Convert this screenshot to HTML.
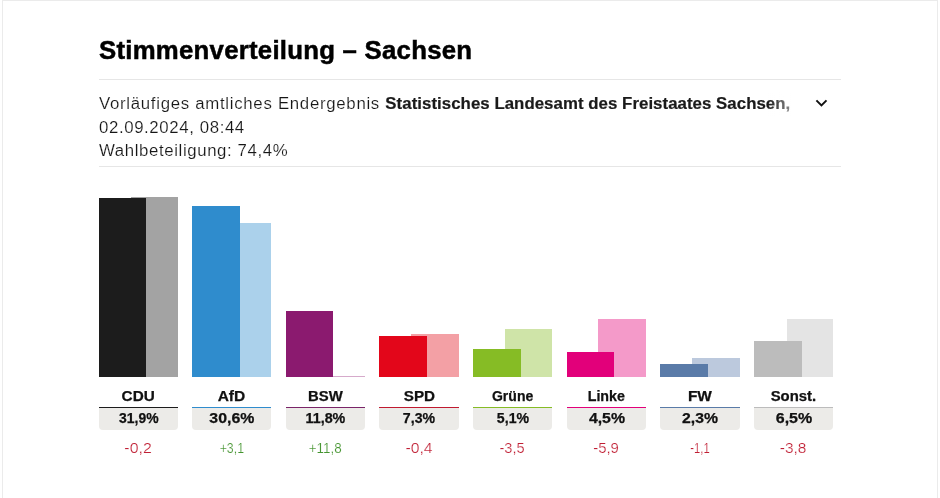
<!DOCTYPE html>
<html lang="de">
<head>
<meta charset="utf-8">
<title>Stimmenverteilung – Sachsen</title>
<style>
*{box-sizing:border-box;margin:0;padding:0}
html,body{width:940px;height:498px;background:#fff;overflow:hidden}
body{font-family:"Liberation Sans",sans-serif;color:#1a1a1a;position:relative}
.frame{position:absolute;left:2px;top:0;width:936px;height:520px;border:1px solid #ebebeb;border-bottom:none}
h2{position:absolute;left:98.8px;top:34px;font-size:25px;line-height:32px;font-weight:700;color:#000;white-space:nowrap;letter-spacing:.25px;transform:scaleX(1.03);transform-origin:0 0;-webkit-text-stroke:.5px #000}
.hr{position:absolute;left:99px;width:742px;height:1px;background:#e6e6e6}
.meta{position:absolute;left:99px;top:91.8px;width:659px;font-size:16px;line-height:23.4px;color:#161616;-webkit-text-stroke:.16px #fff;letter-spacing:.58px;transform:scaleX(1.05);transform-origin:0 0}
.meta .l1{white-space:nowrap;overflow:hidden;position:relative;line-height:24px}
.meta .l1 b{font-weight:700;color:#1a1a1a;letter-spacing:.05px;-webkit-text-stroke:.2px #1a1a1a}
.meta .l1:after{content:"";position:absolute;right:0;top:0;width:22px;height:24px;background:linear-gradient(to right,rgba(255,255,255,0),rgba(255,255,255,.5))}
.chev{position:absolute;left:814px;top:96px;width:16px;height:16px}
.col{position:absolute;top:197px;height:270px}
.bar{position:absolute}
.bar.now{z-index:2}
.bar.prev{z-index:1}
.lbl,.pct,.dif{position:absolute;left:0;width:100%;text-align:center;font-size:14px;white-space:nowrap}
.lbl span,.pct span,.dif span{display:inline-block}
.lbl{top:189px;line-height:20px;font-weight:700;color:#111;-webkit-text-stroke:.25px #111}
.line{position:absolute;top:210px;left:0;width:100%;height:1px}
.pct{top:211px;height:22px;background:#ecebe8;border-radius:0 0 4px 4px;line-height:21px;font-weight:700;color:#111;-webkit-text-stroke:.25px #111}
.dif{top:241px;line-height:20px;-webkit-text-stroke:.2px #fff}
.neg{color:#c01f34}.pos{color:#44942f}
</style>
</head>
<body>
<div class="frame"></div>
<h2>Stimmenverteilung – Sachsen</h2>
<div class="hr" style="top:79px"></div>
<div class="meta">
<div class="l1"><span style="letter-spacing:.67px">Vorläufiges amtliches Endergebnis </span><b>Statistisches Landesamt des Freistaates Sachsen,</b></div>
<div>02.09.2024, 08:44</div>
<div>Wahlbeteiligung: 74,4%</div>
</div>
<svg class="chev" viewBox="0 0 16 16"><path d="M2.4 4.4 L7.45 9.4 L12.5 4.4" fill="none" stroke="#111" stroke-width="2"/></svg>
<div class="hr" style="top:166px"></div>
<div class="col" style="left:99px;width:79px"><div class="bar prev" style="left:32px;width:47px;top:0px;height:180px;background:#a3a3a3"></div><div class="bar now" style="left:0;width:47px;top:1px;height:179px;background:#1c1c1c"></div><div class="lbl"><span style="transform:scaleX(1.093)">CDU</span></div><div class="line" style="background:#1c1c1c"></div><div class="pct"><span style="transform:scaleX(0.995)">31,9%</span></div><div class="dif neg"><span style="transform:scaleX(1.135)">-0,2</span></div></div>
<div class="col" style="left:192px;width:79px"><div class="bar prev" style="left:32px;width:47px;top:26px;height:154px;background:#abd1eb"></div><div class="bar now" style="left:0;width:48px;top:9px;height:171px;background:#2f8ccd"></div><div class="lbl"><span style="transform:scaleX(1.108)">AfD</span></div><div class="line" style="background:#2f8ccd"></div><div class="pct"><span style="transform:scaleX(1.133)">30,6%</span></div><div class="dif pos"><span style="transform:scaleX(0.881)">+3,1</span></div></div>
<div class="col" style="left:286px;width:79px"><div class="bar prev" style="left:32px;width:47px;top:179px;height:1px;background:#d6aacb"></div><div class="bar now" style="left:0;width:47px;top:114px;height:66px;background:#8b1a6f"></div><div class="lbl"><span style="transform:scaleX(1.062)">BSW</span></div><div class="line" style="background:#7a2468"></div><div class="pct"><span style="transform:scaleX(1.021)">11,8%</span></div><div class="dif pos"><span style="transform:scaleX(0.961)">+11,8</span></div></div>
<div class="col" style="left:379px;width:80px"><div class="bar prev" style="left:32px;width:48px;top:137px;height:43px;background:#f3a0a5"></div><div class="bar now" style="left:0;width:48px;top:139px;height:41px;background:#e3061a"></div><div class="lbl"><span style="transform:scaleX(1.086)">SPD</span></div><div class="line" style="background:#c01a30"></div><div class="pct"><span style="transform:scaleX(1.009)">7,3%</span></div><div class="dif neg"><span style="transform:scaleX(1.125)">-0,4</span></div></div>
<div class="col" style="left:473px;width:79px"><div class="bar prev" style="left:32px;width:47px;top:132px;height:48px;background:#cfe4a8"></div><div class="bar now" style="left:0;width:48px;top:152px;height:28px;background:#86bc25"></div><div class="lbl"><span style="transform:scaleX(1.002)">Grüne</span></div><div class="line" style="background:#86bc25"></div><div class="pct"><span style="transform:scaleX(1.010)">5,1%</span></div><div class="dif neg"><span style="transform:scaleX(1.043)">-3,5</span></div></div>
<div class="col" style="left:567px;width:79px"><div class="bar prev" style="left:31px;width:48px;top:122px;height:58px;background:#f49ac9"></div><div class="bar now" style="left:0;width:47px;top:155px;height:25px;background:#e2007a"></div><div class="lbl"><span style="transform:scaleX(1.017)">Linke</span></div><div class="line" style="background:#e2007a"></div><div class="pct"><span style="transform:scaleX(1.132)">4,5%</span></div><div class="dif neg"><span style="transform:scaleX(1.065)">-5,9</span></div></div>
<div class="col" style="left:660px;width:80px"><div class="bar prev" style="left:32px;width:48px;top:161px;height:19px;background:#bcc9dd"></div><div class="bar now" style="left:0;width:48px;top:167px;height:13px;background:#5a7ba8"></div><div class="lbl"><span style="transform:scaleX(1.100)">FW</span></div><div class="line" style="background:#5a7ba8"></div><div class="pct"><span style="transform:scaleX(1.125)">2,3%</span></div><div class="dif neg"><span style="transform:scaleX(0.804)">-1,1</span></div></div>
<div class="col" style="left:754px;width:79px"><div class="bar prev" style="left:33px;width:46px;top:122px;height:58px;background:#e4e4e4"></div><div class="bar now" style="left:0;width:48px;top:144px;height:36px;background:#bcbcbc"></div><div class="lbl"><span style="transform:scaleX(1.064)">Sonst.</span></div><div class="line" style="background:#bcbcbc"></div><div class="pct"><span style="transform:scaleX(1.142)">6,5%</span></div><div class="dif neg"><span style="transform:scaleX(1.104)">-3,8</span></div></div>
</body>
</html>
